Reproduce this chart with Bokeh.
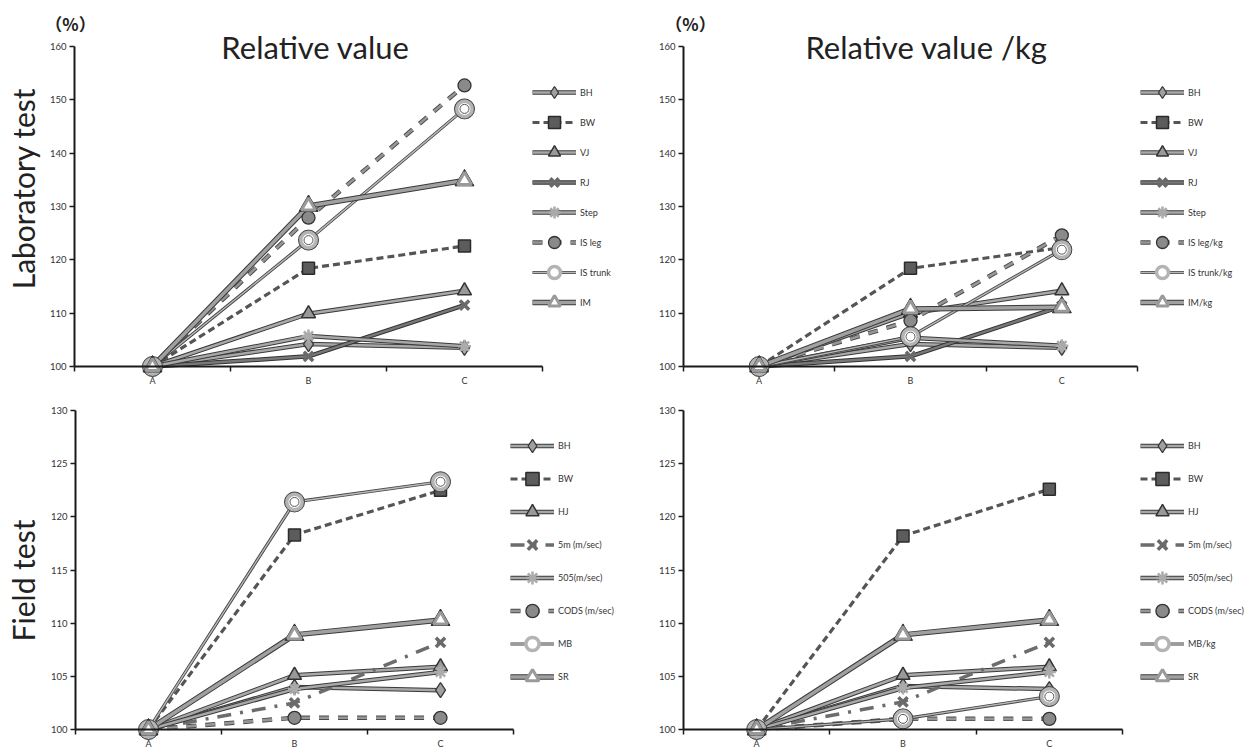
import math
from bokeh.plotting import figure
from bokeh.models import Range1d, FixedTicker, Legend, LegendItem, Label
from bokeh.layouts import row, column
from bokeh.embed import file_html
from bokeh.resources import INLINE

FONT = "Lato"

categories = ["A", "B", "C"]

# Laboratory test - relative value (%)
rel_bh = [100, 104.2, 103.5]
rel_bw = [100, 118.4, 122.6]
rel_vj = [100, 109.9, 114.2]
rel_rj = [100, 101.9, 111.5]
rel_step = [100, 105.7, 103.8]
rel_isleg = [100, 127.9, 152.7]
rel_istrunk = [100, 123.7, 148.3]
rel_im = [100, 130.1, 134.9]

# Laboratory test - relative value /kg (%)
kg_bh = [100, 104.2, 103.5]
kg_bw = [100, 118.4, 122.3]
kg_vj = [100, 110.0, 114.2]
kg_rj = [100, 101.9, 111.3]
kg_step = [100, 105.4, 103.9]
kg_isleg = [100, 108.6, 124.6]
kg_istrunk = [100, 105.6, 121.9]
kg_im = [100, 110.8, 111.1]

# Field test - relative value (%)
fr_bh = [100, 104.0, 103.7]
fr_bw = [100, 118.3, 122.5]
fr_hj = [100, 105.1, 105.9]
fr_5m = [100, 102.5, 108.2]
fr_505 = [100, 103.8, 105.4]
fr_cods = [100, 101.1, 101.1]
fr_mb = [100, 121.4, 123.3]
fr_sr = [100, 108.9, 110.3]

# Field test - relative value /kg (%)
fk_bh = [100, 104.1, 103.8]
fk_bw = [100, 118.2, 122.6]
fk_hj = [100, 105.1, 105.9]
fk_5m = [100, 102.6, 108.2]
fk_505 = [100, 103.9, 105.4]
fk_cods = [100, 101.0, 101.0]
fk_mb = [100, 101.0, 103.1]
fk_sr = [100, 108.9, 110.3]

lab_labels_rel = ["BH", "BW", "VJ", "RJ", "Step", "IS leg", "IS trunk", "IM"]
lab_labels_kg = ["BH", "BW", "VJ", "RJ", "Step", "IS leg/kg", "IS trunk/kg", "IM/kg"]
field_labels_rel = ["BH", "BW", "HJ", "5m (m/sec)", "505(m/sec)", "CODS (m/sec)", "MB", "SR"]
field_labels_kg = ["BH", "BW", "HJ", "5m (m/sec)", "505(m/sec)", "CODS (m/sec)", "MB/kg", "SR"]

lab_yticks = [100, 110, 120, 130, 140, 150, 160]
field_yticks = [100, 105, 110, 115, 120, 125, 130]

lab_styles = [("double", "diamond"), ("dash_dark", "square"), ("double", "tri"),
              ("double_dark", "x"), ("double", "asterisk"), ("dash_light", "circle"),
              ("double_thin", "ring"), ("double_thick", "tri_open")]
field_styles = [("double", "diamond"), ("dash_dark", "square"), ("double", "tri"),
                ("dash_dot", "x"), ("double", "asterisk"), ("dash_light", "circle"),
                ("double_thin", "ring"), ("double_thick", "tri_open")]

LINE_STYLES = {
    "double": [dict(line_color="#3a3a3a", line_width=4.5), dict(line_color="#a8a8a8", line_width=2.5)],
    "double_thin": [dict(line_color="#454545", line_width=3.2), dict(line_color="#b8b8b8", line_width=1.4)],
    "double_thick": [dict(line_color="#3a3a3a", line_width=5.5), dict(line_color="#a0a0a0", line_width=3.5)],
    "double_dark": [dict(line_color="#333333", line_width=4.5), dict(line_color="#787878", line_width=2.5)],
    "dash_dark": [dict(line_color="#555555", line_width=3.2, line_dash="7 4")],
    "dash_light": [dict(line_color="#4a4a4a", line_width=4.5, line_dash="10 9"),
                   dict(line_color="#969696", line_width=2.6, line_dash="10 9")],
    "dash_dot": [dict(line_color="#6c6c6c", line_width=3.5, line_dash="14 9 3 9")],
}

MARKER_STYLES = {
    "diamond": [(True, dict(marker="diamond", size=15, fill_color="#a0a0a0", line_color="#383838", line_width=1.3))],
    "square": [(True, dict(marker="square", size=12, fill_color="#5c5c5c", line_color="#2b2b2b", line_width=1.5))],
    "tri": [(True, dict(marker="triangle", size=14, fill_color="#999999", line_color="#333333", line_width=1.5))],
    "tri_open": [(False, dict(marker="triangle", size=19, fill_color="#333333", line_color="#333333", line_width=1)),
                 (True, dict(marker="triangle", size=14, fill_color="white", line_color="#9a9a9a", line_width=3))],
    "x": [(True, dict(marker="x", size=13, fill_color=None, line_color="#6a6a6a", line_width=3.5))],
    "asterisk": [(True, dict(marker="asterisk", size=13, fill_color=None, line_color="#ababab", line_width=2.5))],
    "circle": [(True, dict(marker="circle", size=13, fill_color="#8a8a8a", line_color="#333333", line_width=1.3))],
    "ring": [(False, dict(marker="circle", size=20, fill_color="#444444", line_color="#444444", line_width=1)),
             (True, dict(marker="circle", size=15.5, fill_color="white", line_color="#b4b4b4", line_width=3.5)),
             (False, dict(marker="circle", size=9, fill_color="white", line_color="#555555", line_width=1))],
}


def make_panel(width, height, px_left, px_right, px_top, px_bottom, yticks,
               series, labels, styles, legend_xy, row_h):
    """px_* : pixel positions (inside this canvas) of the category span and y-tick span."""
    n = len(categories)
    xs = [i + 0.5 for i in range(n)]
    ppx = (px_right - px_left) / n
    ymin, ymax = yticks[0], yticks[-1]
    ppy = (px_bottom - px_top) / (ymax - ymin)
    x_range = Range1d(-px_left / ppx, (width - px_left) / ppx)
    y_range = Range1d(ymin - (height - px_bottom) / ppy, ymax + px_top / ppy)
    p = figure(width=width, height=height, x_range=x_range, y_range=y_range,
               output_backend="svg", toolbar_location=None,
               min_border_left=0, min_border_right=0, min_border_top=0, min_border_bottom=0)
    p.outline_line_color = None
    p.xgrid.visible = False
    p.ygrid.visible = False
    p.background_fill_color = "white"
    p.border_fill_color = "white"

    xa = p.xaxis[0]
    xa.fixed_location = ymin
    xa.bounds = (0, n)
    xa.ticker = FixedTicker(ticks=xs, minor_ticks=list(range(n + 1)))
    xa.major_label_overrides = {x: c for x, c in zip(xs, categories)}
    xa.major_tick_out = 0
    xa.major_tick_in = 0
    xa.minor_tick_out = 5
    xa.minor_tick_in = 0
    xa.minor_tick_line_color = "#1a1a1a"
    xa.minor_tick_line_width = 1.5
    xa.axis_line_width = 2
    xa.axis_line_color = "#1a1a1a"
    xa.major_label_text_font = FONT
    xa.major_label_text_font_size = "9px"
    xa.major_label_text_color = "#333333"
    xa.major_label_standoff = 3

    ya = p.yaxis[0]
    ya.fixed_location = 0
    ya.bounds = (ymin, ymax)
    ya.ticker = FixedTicker(ticks=yticks, minor_ticks=[])
    ya.major_tick_out = 5
    ya.major_tick_in = 0
    ya.major_tick_line_width = 1.5
    ya.major_tick_line_color = "#1a1a1a"
    ya.axis_line_width = 2
    ya.axis_line_color = "#1a1a1a"
    ya.major_label_text_font = FONT
    ya.major_label_text_font_size = "9.5px"
    ya.major_label_text_color = "#333333"
    ya.major_label_standoff = 3

    items = []
    line_rs = []
    for ys, (ls, ms) in zip(series, styles):
        rs = [p.line(xs, ys, **kw) for kw in LINE_STYLES[ls]]
        line_rs.append(rs)
    for ys, (ls, ms), lab, lrs in zip(series, styles, labels, line_rs):
        leg_rs = list(lrs)
        for in_leg, kw in MARKER_STYLES[ms]:
            r = p.scatter(xs, ys, **kw)
            if in_leg:
                leg_rs.append(r)
        items.append(LegendItem(label=lab, renderers=leg_rs))

    legend = Legend(items=items, location=legend_xy, orientation="vertical",
                    glyph_width=44, glyph_height=row_h, label_height=row_h, spacing=0,
                    padding=0, margin=0, label_standoff=4,
                    label_text_font=FONT, label_text_font_size="9px",
                    label_text_color="#333333",
                    border_line_color=None, background_fill_alpha=0)
    p.add_layout(legend)
    return p


def add_label(p, text, x, y, size, angle=0.0, font=FONT, align="center",
              baseline="alphabetic", style="normal"):
    p.add_layout(Label(x=x, y=y, x_units="screen", y_units="screen", text=text,
                       text_font=font, text_font_size=size, text_color="#222222",
                       text_align=align, text_baseline=baseline, angle=angle,
                       text_font_style=style))


TOP_H = 386
BOT_H = 363
HALF_W = 626

tl = make_panel(HALF_W, TOP_H, 74, 542, 46, 366, lab_yticks,
                [rel_bh, rel_bw, rel_vj, rel_rj, rel_step, rel_isleg, rel_istrunk, rel_im],
                lab_labels_rel, lab_styles, (532, 69), 30)
tr = make_panel(HALF_W, TOP_H, 57, 511, 46, 366, lab_yticks,
                [kg_bh, kg_bw, kg_vj, kg_rj, kg_step, kg_isleg, kg_istrunk, kg_im],
                lab_labels_kg, lab_styles, (514, 69), 30)
bl = make_panel(HALF_W, BOT_H, 75, 513, 24, 343, field_yticks,
                [fr_bh, fr_bw, fr_hj, fr_5m, fr_505, fr_cods, fr_mb, fr_sr],
                field_labels_rel, field_styles, (510, 56), 33)
br = make_panel(HALF_W, BOT_H, 57, 496, 24, 343, field_yticks,
                [fk_bh, fk_bw, fk_hj, fk_5m, fk_505, fk_cods, fk_mb, fk_sr],
                field_labels_kg, field_styles, (514, 56), 33)

# screen coordinates: x from the left, y from the bottom of each canvas
add_label(tl, "Relative value", 315, TOP_H - 46, "31px")
add_label(tl, "（%）", 70, TOP_H - 23, "17px", font="Noto Sans CJK JP", style="bold")
add_label(tl, "Laboratory test", 22, TOP_H - 188, "30px", angle=math.pi / 2)
add_label(tr, "Relative value /kg", 300, TOP_H - 46, "31px")
add_label(tr, "（%）", 64, TOP_H - 23, "17px", font="Noto Sans CJK JP", style="bold")
add_label(bl, "Field test", 22, BOT_H - 194, "30px", angle=math.pi / 2)

layout = column(row(tl, tr), row(bl, br))
open("out.html", "w").write(file_html(layout, INLINE))
